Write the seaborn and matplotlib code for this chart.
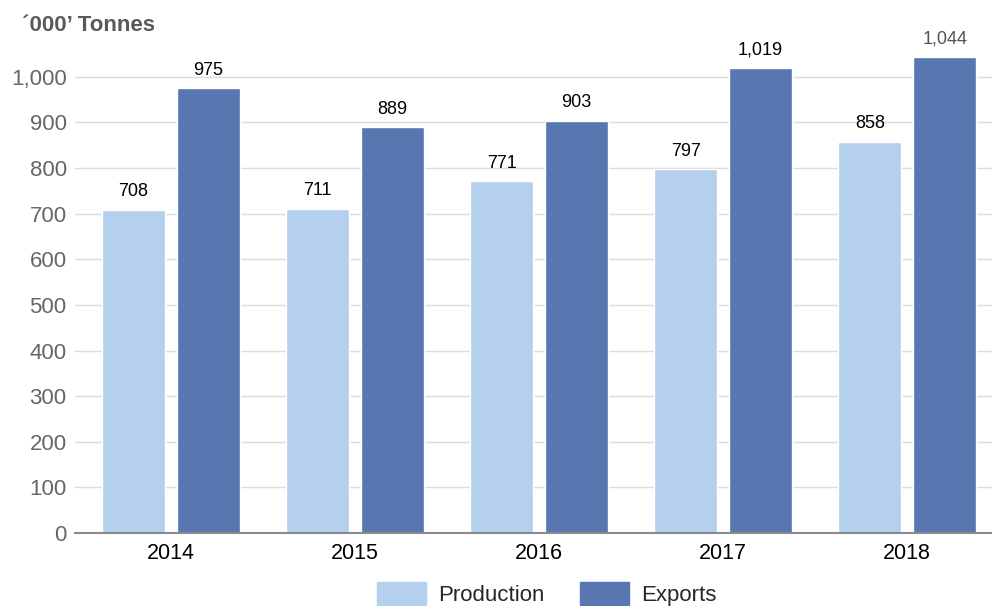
import matplotlib.pyplot as plt
import pandas as pd
import seaborn as sns

# Dados
anos = ["2014", "2015", "2016", "2017", "2018"]
producao = [708, 711, 771, 797, 858]
exportacoes = [975, 889, 903, 1019, 1044]
series = ["Production", "Exports"]
cores = ["#b5cfee", "#5876b0"]
y_ticks = [0, 100, 200, 300, 400, 500, 600, 700, 800, 900, 1000]

df = pd.DataFrame({
    "ano": anos * 2,
    "valor": producao + exportacoes,
    "serie": [series[0]] * len(anos) + [series[1]] * len(anos),
})

sns.set_theme(style="white")
plt.rcParams["font.family"] = ["Liberation Sans", "DejaVu Sans"]

fig = plt.figure(figsize=(9.92, 6.06), dpi=100)
ax = fig.add_axes([0.0756, 0.1205, 0.9244, 0.828])

sns.barplot(data=df, x="ano", y="valor", hue="serie", hue_order=series,
            palette=cores, width=0.815, gap=0.16, errorbar=None,
            saturation=1, ax=ax, legend=False)

# Rótulos de valor em cima das barras
for i, cont in enumerate(ax.containers):
    textos = ax.bar_label(cont, fmt="{:,.0f}", padding=7, fontsize=13, color="black")
    if i == 1:
        textos[-1].set_color("#555555")

ax.set_xlim(-0.52, 4.46)
ax.set_ylim(0, 1100)
ax.set_yticks(y_ticks)
ax.set_yticklabels([f"{v:,}" for v in y_ticks])
ax.tick_params(axis="y", length=0, pad=6, labelsize=16, labelcolor="#666666")
ax.tick_params(axis="x", length=0, pad=7, labelsize=15.5, labelcolor="black")
ax.set_xlabel("")
ax.set_ylabel("")

ax.grid(axis="y", color="#dcdcdc", linewidth=1)
ax.set_axisbelow(True)
for lado in ["top", "right", "left"]:
    ax.spines[lado].set_visible(False)
ax.spines["bottom"].set_color("#8a8a8a")
ax.spines["bottom"].set_linewidth(1.5)

fig.text(0.022, 0.958, "´000’ Tonnes", fontsize=16, fontweight="bold",
         color="#595959", ha="left", va="center")

# Legenda em baixo
handles = [plt.Rectangle((0, 0), 1, 1, color=c) for c in cores]
fig.legend(handles, series, loc="center", bbox_to_anchor=(0.551, 0.02),
           ncol=2, frameon=False, fontsize=16, handlelength=2.2,
           handleheight=1.2, handletextpad=0.55, columnspacing=1.6)

fig.savefig("out.png", dpi=100)
plt.close(fig)
